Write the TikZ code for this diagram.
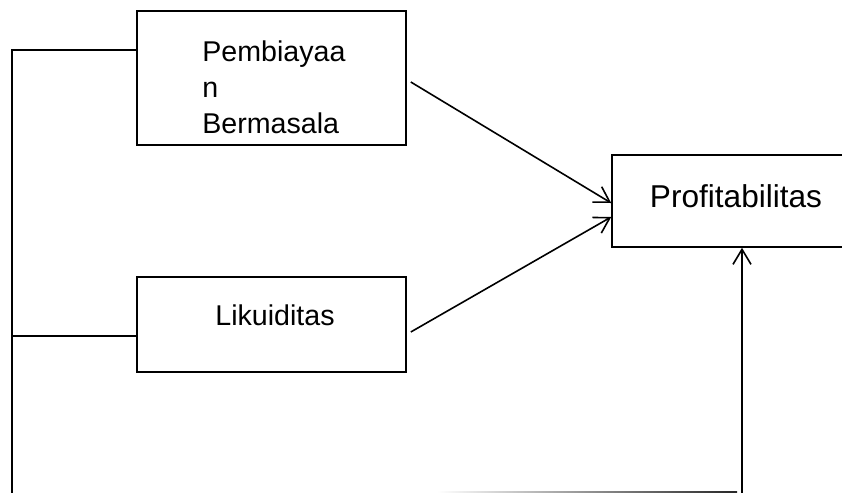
\documentclass[tikz,border=0pt]{standalone}
\usepackage{fontspec}
\setmainfont{Liberation Sans}
\usetikzlibrary{arrows.meta}
\tikzset{
  box/.style={draw, line width=0.8pt, inner sep=0pt},
  lbl/.style={inner sep=0pt, font=\fontsize{14.3}{18}\selectfont},
  link/.style={line width=0.8pt},
  arr/.style={line width=0.8pt, -{Straight Barb[length=7.5pt,width=9pt]}}
}
\begin{document}
\begin{tikzpicture}[x=0.5pt,y=-0.5pt]
            \clip (0,0) rectangle (842,493);
            \node[box, minimum width=134.5pt, minimum height=67pt] at (271.5,78) (pb) {};
            \node[lbl, anchor=base west, align=left] at (202,133) (pbtext) {Pembiayaa\\n\\Bermasala};
            \node[box, minimum width=134.5pt, minimum height=47.5pt] at (271.5,324.5) (lk) {};
            \node[lbl, anchor=base] at (275,325) (lktext) {Likuiditas};
            \node[box, minimum width=129pt, minimum height=46pt] at (741,201) (pf) {};
            \node[lbl, anchor=base, font=\fontsize{15.8}{19}\selectfont] at (736,207) (pftext) {Profitabilitas};
            \coordinate (bl) at (12,494);
            \coordinate (br) at (742,494);
            \draw[link] ([yshift=14pt]pb.west) -| (bl);
            \draw[link] ([yshift=-5.75pt]lk.west) -- ([yshift=-5.75pt]lk.west -| bl);
            \draw[arr] ([xshift=2pt,yshift=-2pt]pb.east) -- ([yshift=-1pt]pf.west);
            \draw[arr] ([xshift=2pt,yshift=-3.75pt]lk.east) -- ([yshift=-8pt]pf.west);
            \draw[arr] (br) -- (br |- pf.south);
            \shade[left color=white, right color=black!85] (437,491) rectangle (737,493);
        \end{tikzpicture}
\end{document}
